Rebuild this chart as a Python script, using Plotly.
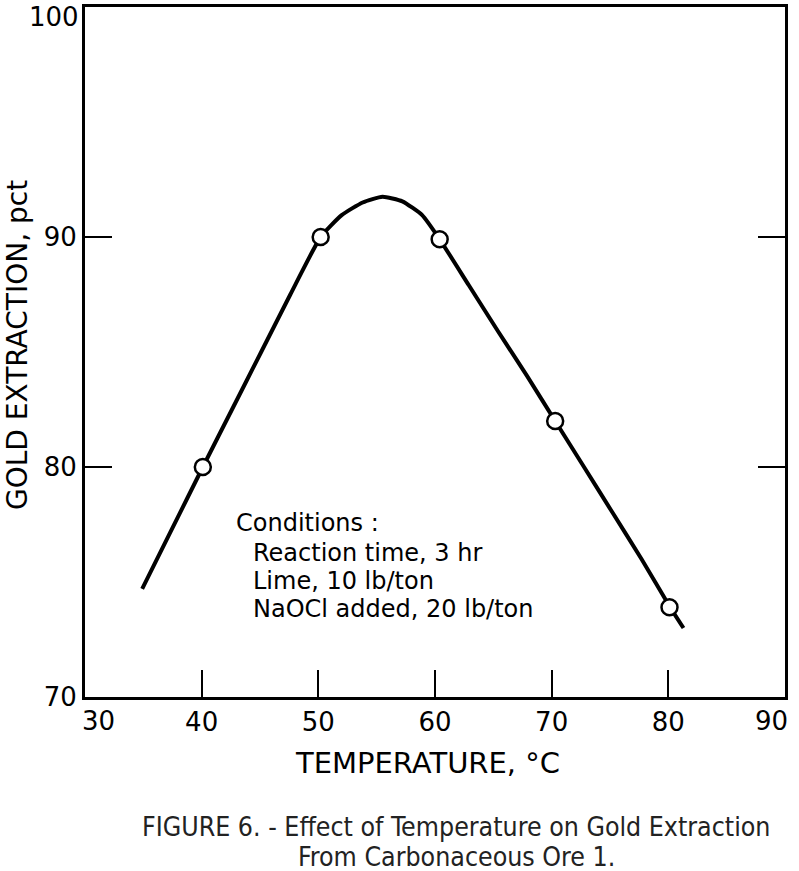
import plotly.graph_objects as go

# Measured points
temp_pts = [40.1, 50.2, 60.4, 70.3, 80.1]
extr_pts = [80.0, 90.0, 89.9, 82.0, 73.9]

# Curve
curve_x = [34.9, 37.5, 40.1, 42.6, 45.1, 47.6, 50.2, 52.0, 53.8, 55.5, 57.2, 58.9, 60.4,
           62.9, 65.4, 67.9, 70.3, 72.8, 75.2, 77.7, 80.1, 81.3]
curve_y = [74.7, 77.35, 80.0, 82.5, 85.0, 87.5, 90.0, 90.95, 91.5, 91.75, 91.55, 90.95, 89.9,
           87.9, 85.9, 83.95, 82.0, 79.98, 78.03, 76.0, 73.95, 73.0]

x_ticks = [30, 40, 50, 60, 70, 80, 90]
y_ticks = [70, 80, 90, 100]

conditions_head = "Conditions :"
conditions = ["Reaction time, 3 hr", "Lime, 10 lb/ton", "NaOCl added, 20 lb/ton"]

FONT = "DejaVu Sans"
COND = "DejaVu Sans Condensed, DejaVu Sans"

W, H = 799, 871
L, R, T, B = 85, 14, 7, 174
pw, ph = W - L - R, H - T - B


def px(xp):
    return (xp - L) / pw


def py(yp):
    return (H - B - yp) / ph


fig = go.Figure()
fig.add_trace(go.Scatter(x=curve_x, y=curve_y, mode="lines",
                         line=dict(color="black", width=4, shape="spline", smoothing=0.5),
                         hoverinfo="skip", showlegend=False))
fig.add_trace(go.Scatter(x=temp_pts, y=extr_pts, mode="markers",
                         marker=dict(symbol="circle", size=16, color="white",
                                     line=dict(color="black", width=2.5)),
                         showlegend=False))

# end tick labels are drawn separately (shifted inward as in the reference)
x_text = ["" if v in (x_ticks[0], x_ticks[-1]) else str(v) for v in x_ticks]
y_text = ["" if v == y_ticks[-1] else str(v) for v in y_ticks]

tick_font = dict(family=FONT, size=26, color="black")

fig.update_xaxes(range=[30, 90], tickvals=x_ticks, ticktext=x_text, ticks="inside", ticklen=27,
                 tickwidth=1.5, tickcolor="black", showline=True, linewidth=3, linecolor="black",
                 mirror=True, showgrid=False, zeroline=False, automargin=False,
                 ticklabeloverflow="allow", tickfont=tick_font)
fig.update_yaxes(range=[70, 100], tickvals=y_ticks, ticktext=y_text, ticks="inside", ticklen=27,
                 tickwidth=1.5, tickcolor="black", showline=True, linewidth=3, linecolor="black",
                 mirror="ticks", showgrid=False, zeroline=False, automargin=False,
                 ticklabeloverflow="allow", tickfont=tick_font)

fig.add_annotation(x=px(98), y=py(721), xref="paper", yref="paper", text=str(x_ticks[0]),
                   showarrow=False, xanchor="center", yanchor="middle", font=tick_font)
fig.add_annotation(x=px(771), y=py(721), xref="paper", yref="paper", text=str(x_ticks[-1]),
                   showarrow=False, xanchor="center", yanchor="middle", font=tick_font)
fig.add_annotation(x=px(81), y=py(17), xref="paper", yref="paper", text=str(y_ticks[-1]),
                   showarrow=False, xanchor="right", yanchor="middle", font=tick_font)

# axis titles
fig.add_annotation(x=px(427), y=py(763), xref="paper", yref="paper", text="TEMPERATURE, °C",
                   showarrow=False, xanchor="center", yanchor="middle",
                   font=dict(family=FONT, size=29, color="black"))
fig.add_annotation(x=px(17), y=py(345), xref="paper", yref="paper", text="GOLD EXTRACTION, pct",
                   showarrow=False, xanchor="center", yanchor="middle", textangle=-90,
                   font=dict(family=FONT, size=28, color="black"))

# conditions block
fig.add_annotation(x=px(234), y=py(523), xref="paper", yref="paper", text=conditions_head,
                   showarrow=False, xanchor="left", yanchor="middle",
                   font=dict(family=FONT, size=24, color="black"))
for i, line in enumerate(conditions):
    fig.add_annotation(x=px(251), y=py(553 + i * 28), xref="paper", yref="paper", text=line,
                       showarrow=False, xanchor="left", yanchor="middle",
                       font=dict(family=FONT, size=24, color="black"))

# caption
fig.add_annotation(x=px(456), y=py(826), xref="paper", yref="paper",
                   text="FIGURE 6. - Effect of Temperature on Gold Extraction",
                   showarrow=False, xanchor="center", yanchor="middle",
                   font=dict(family=COND, size=26.5, color="#222"))
fig.add_annotation(x=px(456), y=py(856), xref="paper", yref="paper",
                   text="From Carbonaceous Ore 1.",
                   showarrow=False, xanchor="center", yanchor="middle",
                   font=dict(family=COND, size=26.5, color="#222"))

fig.update_layout(width=W, height=H, margin=dict(l=L, r=R, t=T, b=B),
                  plot_bgcolor="white", paper_bgcolor="white")

fig.write_html("out.html", config={"displayModeBar": False},
               post_script="document.body.style.margin='0';document.body.style.padding='0';")
